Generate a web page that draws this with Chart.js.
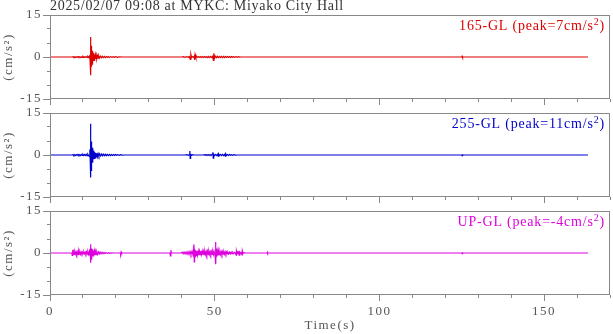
<!DOCTYPE html>
<html>
<head>
<meta charset="utf-8">
<script src="https://cdn.jsdelivr.net/npm/chart.js@4.4.1/dist/chart.umd.min.js"></script>
<style>
  body { margin: 0; background: #fff; }
  #wrap { position: relative; width: 613px; height: 334px; }
  canvas { position: absolute; left: 0; }
</style>
</head>
<body>
<div id="wrap">
  <canvas id="c165" width="613" height="113" style="top:0"></canvas>
  <canvas id="c255" width="613" height="112" style="top:99px"></canvas>
  <canvas id="cUP" width="613" height="137" style="top:197px"></canvas>
</div>
<script>
// --- Data (time s, acceleration cm/s2) ---
const titleText = '2025/02/07 09:08 at MYKC: Miyako City Hall';
const xTicksMajor = [0, 50, 100, 150];
const yTicksMajor = [-15, 0, 15];

const ns165 = [[0,0],[6.9,0],
  [7.0,0.15],[7.25,-0.1],[7.5,0.1],[7.75,-0.15],[8.0,0.1],[8.25,-0.1],[8.5,0.15],[8.75,-0.1],[9.0,0.1],[9.25,-0.15],[9.5,0.1],[9.75,-0.1],[10,0.15],[10.25,-0.15],[10.5,0.1],[10.75,-0.1],[11,0.15],[11.25,-0.15],[11.5,0.2],[11.75,-0.15],[12.0,0.3],[12.15,-0.8],
  [12.3,7.1],[12.38,-6.5],[12.45,4.0],[12.52,-3.5],[12.6,3.0],[12.68,-2.6],[12.76,2.2],[12.84,-2.8],[12.92,1.8],[13.0,-2.0],[13.1,1.5],[13.2,-1.4],[13.3,1.1],[13.4,-1.2],[13.5,0.9],[13.6,-0.9],[13.75,0.7],[13.9,-0.7],[14.05,0.6],[14.2,-0.55],[14.4,0.45],[14.6,-0.45],[14.8,0.35],[15.0,-0.35],
  [15.3,0.3],[15.6,-0.25],[15.9,0.25],[16.2,-0.2],[16.5,0.2],[16.8,-0.2],[17.1,0.15],[17.4,-0.15],[17.7,0.15],[18.0,-0.15],[18.4,0.15],[18.8,-0.1],[19.2,0.1],[19.6,-0.1],[20,0.1],[20.5,-0.1],[21,0.05],[22,0],
  [40,0],[40.5,0.1],[41,-0.1],[41.5,0.1],[42,-0.1],[42.3,0.15],[42.6,-0.9],[42.75,1.0],[43,-0.2],[43.3,0.15],[43.6,-0.15],[43.75,0.2],[43.9,-1.0],[44.05,0.9],[44.3,-0.2],[44.6,0.15],[44.9,-0.15],[45.2,0.15],[45.5,-0.15],[45.8,0.15],[46.1,-0.15],[46.4,0.15],[46.7,-0.15],[47,0.15],[47.3,-0.15],[47.6,0.15],[47.9,-0.2],[48.2,0.2],[48.5,-0.2],[48.8,0.2],[49.1,-0.2],[49.4,0.25],[49.6,-1.2],[49.75,1.3],
  [50,-0.35],[50.3,0.3],[50.6,-0.25],[50.9,0.25],[51.2,-0.2],[51.5,0.2],[51.8,-0.2],[52.1,0.2],[52.4,-0.2],[52.7,0.2],[53,-0.2],[53.3,0.2],[53.6,-0.15],[53.9,0.15],[54.2,-0.15],[54.5,0.15],[54.8,-0.15],[55.1,0.15],[55.4,-0.1],[55.7,0.1],[56,-0.1],[56.4,0.1],[56.8,-0.1],[57.2,0.1],[57.6,-0.05],[58,0],
  [125,0],[125.1,0.25],[125.2,-0.2],[125.3,0],[163.3,0]];

const ew255 = [[0,0],[6.8,0],
  [7,0.15],[7.25,-0.15],[7.5,0.15],[7.75,-0.2],[8.0,0.15],[8.25,-0.15],[8.5,0.2],[8.75,-0.15],[9.0,0.15],[9.25,-0.2],[9.5,0.2],[9.75,-0.15],[10,0.2],[10.25,-0.2],[10.5,0.2],[10.75,-0.2],[11,0.25],[11.25,-0.2],[11.5,0.25],[11.75,-0.3],[11.95,-0.5],[12.1,2.0],[12.2,-1.5],
  [12.28,11.2],[12.34,-8.0],[12.4,5.2],[12.46,-5.5],[12.52,4.8],[12.58,-3.8],[12.65,3.5],[12.72,-3.0],[12.8,2.6],[12.88,-2.8],[12.96,2.2],[13.05,-2.0],[13.15,1.6],[13.25,-1.5],[13.35,1.3],[13.45,-1.2],[13.55,1.0],[13.7,-1.0],[13.85,0.8],[14.0,-0.7],[14.2,0.6],[14.4,-0.6],[14.6,0.5],[14.85,-0.45],[15.1,0.4],
  [15.4,-0.35],[15.7,0.35],[16.0,-0.3],[16.3,0.3],[16.6,-0.25],[16.9,0.25],[17.2,-0.25],[17.5,0.2],[17.8,-0.2],[18.1,0.2],[18.4,-0.2],[18.7,0.15],[19.0,-0.15],[19.3,0.15],[19.6,-0.15],[19.9,0.15],[20.2,-0.1],[20.6,0.1],[21,-0.1],[21.4,0.1],[21.8,-0.05],[22.5,0],
  [41,0],[41.5,0.1],[42,-0.1],[42.3,0.15],[42.45,1.4],[42.55,-1.2],[42.7,0.2],[43,-0.1],[43.3,0.1],[43.6,0],
  [46.5,0],[46.8,0.1],[47.1,-0.1],[47.4,0.15],[47.7,-0.15],[48,0.15],[48.3,-0.15],[48.6,0.15],[48.9,-0.2],[49.2,0.2],[49.45,1.0],[49.55,-1.1],[49.7,0.25],[50,-0.2],[50.3,0.2],[50.6,-0.2],[50.9,0.25],[51.05,-0.45],[51.2,0.4],[51.5,-0.2],[51.8,0.2],[52.1,-0.2],[52.4,0.2],[52.7,-0.2],[53.0,0.2],[53.2,-0.4],[53.35,0.35],[53.6,-0.15],[53.9,0.15],[54.2,-0.15],[54.5,0.15],[54.8,-0.1],[55.1,0.1],[55.4,-0.1],[55.8,0.1],[56.2,-0.05],[57,0],
  [125,0],[125.1,-0.25],[125.2,0.25],[125.3,0],[163.3,0]];

const udUP = [[0,0],[6.6,0],
  [6.75,-0.9],[6.85,1.2],[6.95,-0.7],[7.1,0.5],[7.3,-0.5],[7.5,0.45],[7.7,-0.4],[7.9,0.45],[8.1,-0.45],[8.3,0.4],[8.5,-0.55],[8.7,0.6],[8.9,-0.45],[9.1,0.4],[9.3,-0.4],[9.5,0.35],[9.7,-0.3],[9.9,0.3],[10.1,-0.35],[10.3,0.4],[10.5,-0.3],[10.7,0.3],[10.9,-0.35],[11.1,0.4],[11.3,-0.4],[11.5,0.4],[11.7,-0.5],[11.95,0.6],[12.1,-1.0],[12.2,1.3],
  [12.28,3.1],[12.34,-3.5],[12.42,2.0],[12.5,-2.2],[12.6,1.6],[12.7,-1.4],[12.8,1.3],[12.9,-1.2],[13.0,1.0],[13.1,-1.0],[13.2,0.85],[13.35,-0.85],[13.5,0.75],[13.65,-0.65],[13.8,0.6],[14,-0.55],[14.2,0.45],[14.45,-0.45],[14.7,0.4],[14.95,-0.35],[15.2,0.3],[15.5,-0.3],[15.8,0.25],[16.1,-0.25],[16.4,0.2],[16.7,-0.2],[17.0,0.15],[17.4,-0.15],[17.8,0.1],[18.2,-0.1],[18.7,0.05],[19.5,0],
  [21.3,0],[21.45,-0.4],[21.6,0.4],[21.75,0],
  [36.4,0],[36.55,-1.0],[36.7,1.0],[36.85,0],
  [39.8,0],[40.1,0.3],[40.4,-0.3],[40.7,0.35],[41,-0.35],[41.3,0.4],[41.6,-0.45],[41.9,0.45],[42.2,-0.5],[42.5,0.55],[42.8,-0.6],[43.1,0.6],[43.4,-0.65],[43.7,3.0],[43.8,-3.2],[43.9,1.4],[44.05,-1.3],[44.2,1.0],[44.4,-0.9],[44.6,0.8],[44.8,-0.8],[45.0,0.7],[45.2,-0.8],[45.4,0.7],[45.6,-0.6],[45.8,0.7],[46.0,-0.6],[46.2,0.7],[46.4,-0.6],[46.6,0.6],[46.8,-0.6],[47.0,0.55],[47.2,-0.55],[47.4,0.55],[47.6,-0.55],[47.8,0.6],[48,-0.6],[48.2,0.55],[48.4,-0.5],[48.6,0.5],[48.8,-0.5],[49.0,0.5],[49.2,-0.5],[49.4,0.5],[49.6,-0.55],[49.8,0.6],[50.1,-0.8],
  [50.25,3.9],[50.35,-4.0],[50.45,1.6],[50.6,-1.3],[50.8,0.8],[51,-0.7],[51.2,0.55],[51.4,-0.55],[51.6,0.5],[51.8,-0.5],[52.0,0.45],[52.2,-0.45],[52.4,0.5],[52.6,-0.4],[52.8,0.4],[53.0,-0.4],[53.2,0.4],[53.4,-0.35],[53.6,0.35],[53.8,-0.35],[54,0.3],[54.25,-0.35],[54.5,0.3],[54.75,-0.3],[55,0.3],[55.25,-0.25],[55.5,0.25],[55.8,-0.2],[56.1,0.2],[56.35,-0.2],[56.5,-0.8],[56.6,0.7],[56.8,-0.2],[57.0,0.2],[57.2,-0.2],[57.3,0.7],[57.4,-0.8],[57.6,0.2],[57.8,-0.2],[58.0,0.2],[58.3,-0.7],[58.4,0.7],[58.6,-0.15],[58.9,0.1],[59.3,0],
  [65.9,0],[66,-0.3],[66.1,0.25],[66.2,0],
  [125,0],[125.1,-0.25],[125.2,0.25],[125.3,0],[163.3,0]];

const FONT = "'Liberation Serif', 'DejaVu Serif', serif";
const frameColor = '#888';
const textColor = '#555';

// frame box, panel label and page title
const framePlugin = {
  id: 'frame',
  beforeDraw(chart) { chart.ctx.letterSpacing = '1.5px'; },
  afterDatasetsDraw(chart, args, opts) {
    const { ctx, chartArea: a } = chart;
    ctx.save();
    ctx.strokeStyle = frameColor;
    ctx.lineWidth = 1;
    ctx.strokeRect(a.left + 0.5, a.top + 0.5, a.right - a.left - 1, a.bottom - a.top - 1);

    ctx.letterSpacing = '0.8px';
    ctx.textBaseline = 'alphabetic';
    ctx.textAlign = 'left';
    const big = '14px ' + FONT, small = '10px ' + FONT;
    ctx.font = big;
    const w1 = ctx.measureText(opts.label).width;
    const w3 = ctx.measureText(')').width;
    ctx.font = small;
    const w2 = ctx.measureText('2').width;
    let x = a.right - 5 - (w1 + w2 + w3);
    const y = a.top + 15;
    ctx.fillStyle = opts.color;
    ctx.font = big; ctx.fillText(opts.label, x, y); x += w1;
    ctx.font = small; ctx.fillText('2', x, y - 5); x += w2;
    ctx.font = big; ctx.fillText(')', x, y);

    if (opts.title) {
      ctx.fillStyle = '#333';
      ctx.font = big;
      ctx.letterSpacing = '0.7px';
      ctx.fillText(opts.title, a.left, 10);
    }
    ctx.restore();
  }
};

function makePanel(id, points, color, label, opts) {
  const showX = !!opts.showX;
  new Chart(document.getElementById(id), {
    type: 'line',
    data: {
      datasets: [{
        data: points.map(p => ({ x: p[0], y: p[1] })),
        borderColor: color,
        borderWidth: 1.2,
        pointRadius: 0,
        tension: 0,
        fill: false
      }]
    },
    options: {
      responsive: false,
      animation: false,
      events: [],
      layout: { padding: { top: opts.top, right: 0, left: 0, bottom: 0 } },
      plugins: {
        legend: { display: false },
        tooltip: { enabled: false },
        frame: { label: label, color: color, title: opts.title }
      },
      scales: {
        x: {
          type: 'linear', min: 0, max: 170,
          afterFit: s => { s.height = opts.xh; },
          ticks: {
            stepSize: 10, autoSkip: false, maxRotation: 0, padding: 3,
            color: textColor, font: { family: FONT, size: 13 },
            callback: v => (showX && xTicksMajor.includes(v)) ? String(v) : ''
          },
          grid: {
            drawOnChartArea: false, tickLength: 6, tickColor: frameColor,
            tickBorderDash: c => (c.tick && xTicksMajor.includes(c.tick.value)) ? [] : [3, 10]
          },
          border: { display: false },
          title: {
            display: showX, text: 'Time(s)', color: textColor,
            font: { family: FONT, size: 13, lineHeight: 1.15 }, padding: { top: 0, bottom: 1 }
          }
        },
        y: {
          min: -15, max: 15,
          afterFit: s => { s.width = 50; },
          ticks: {
            stepSize: 5, autoSkip: false, padding: 1, color: textColor, font: { family: FONT, size: 13 },
            callback: v => yTicksMajor.includes(v) ? String(v) : ''
          },
          grid: {
            drawOnChartArea: false, tickLength: 7, tickColor: frameColor,
            tickBorderDash: c => (c.tick && yTicksMajor.includes(c.tick.value)) ? [] : [0, 4, 3, 10]
          },
          border: { display: false },
          title: {
            display: true, text: '(cm/s²)', color: textColor,
            font: { family: FONT, size: 13, lineHeight: 1.15 }, padding: { top: 1, bottom: 0 }
          }
        }
      }
    },
    plugins: [framePlugin]
  });
}

makePanel('c165', ns165, '#dd0000', '165-GL (peak=7cm/s', { top: 15, xh: 14, title: titleText });
makePanel('c255', ew255, '#0000cc', '255-GL (peak=11cm/s', { top: 14, xh: 14 });
makePanel('cUP', udUP, '#dd00dd', 'UP-GL (peak=-4cm/s', { top: 14, xh: 39, showX: true });
</script>
</body>
</html>
